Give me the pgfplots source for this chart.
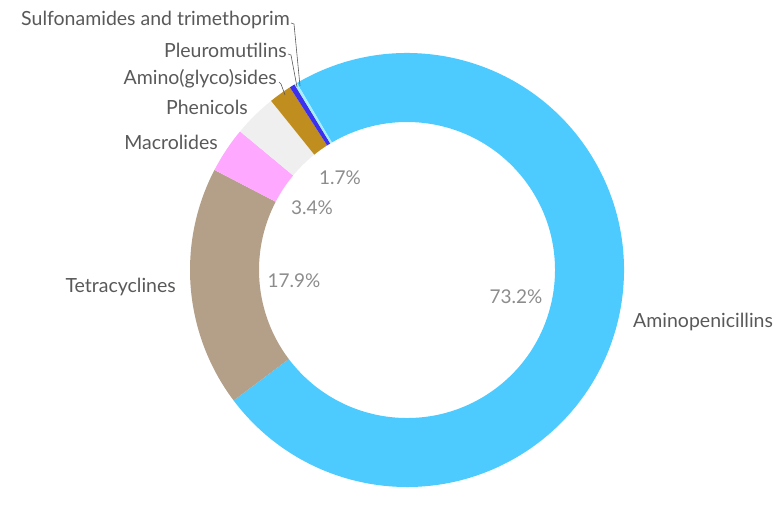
\documentclass[border=0pt]{standalone}
\usepackage{pgfplots}
\pgfplotsset{compat=1.18}
\usepackage{pgfplotstable}
\usepackage{fontspec}
\setmainfont{Lato}
\definecolor{c0}{HTML}{4DCBFF}
\definecolor{c1}{HTML}{B4A089}
\definecolor{c2}{HTML}{FFA8FF}
\definecolor{c3}{HTML}{EFEFEF}
\definecolor{c4}{HTML}{C08E1F}
\definecolor{c5}{HTML}{3B2FF0}
\definecolor{c6}{HTML}{A6EEFF}
\definecolor{lblgray}{HTML}{595959}
\definecolor{pctgray}{HTML}{8C8C8C}
% share of each antimicrobial class (%), clockwise from Aminopenicillins
\pgfplotstableread{
value
73.2
17.9
3.4
3.2
1.7
0.4
0.2
}\abdata
\begin{document}
\begin{tikzpicture}
\begin{axis}[hide axis, scale only axis, width=781pt, height=490pt,
  xmin=0, xmax=781, ymin=0, ymax=490, y dir=reverse, clip=false]
\path (axis cs:0,0) rectangle (axis cs:781,490);
\def\angA{120.5}
\pgfplotsforeachungrouped \i in {0,...,6}{%
  \pgfplotstablegetelem{\i}{value}\of\abdata
  \pgfmathsetmacro\angB{\angA-3.6*\pgfplotsretval}%
  \edef\temp{\noexpand\fill[c\i] (axis cs:407,270) ++(\angA:217pt)
    arc[start angle=\angA, end angle=\angB, radius=217pt]
    -- ++(\angB:-69pt)
    arc[start angle=\angB, end angle=\angA, radius=148pt] -- cycle;}%
  \temp
  \global\let\angA\angB
}
\tikzset{lbl/.style={anchor=east, text=lblgray, font=\fontsize{19.5}{22}\selectfont, inner sep=0pt},
         pct/.style={text=pctgray, font=\fontsize{19}{22}\selectfont, inner sep=0pt}}
\node[lbl] at (axis cs:290,20) {Sulfonamides and trimethoprim};
\node[lbl] at (axis cs:287,50) {Pleuromutilins};
\node[lbl] at (axis cs:277,79) {Amino(glyco)sides};
\node[lbl] at (axis cs:248,107) {Phenicols};
\node[lbl] at (axis cs:218,142) {Macrolides};
\node[lbl] at (axis cs:176,287) {Tetracyclines};
\node[lbl, anchor=west] at (axis cs:633,322) {Aminopenicillins};
\draw[lblgray, line width=0.6pt] (axis cs:291,23) -- (axis cs:294,24) -- (axis cs:300,86);
\draw[lblgray, line width=0.6pt] (axis cs:288,54) -- (axis cs:291,55) -- (axis cs:297,87);
\draw[lblgray, line width=0.6pt] (axis cs:279,82) -- (axis cs:281,84) -- (axis cs:285,95);
\node[pct] at (axis cs:516,297) {73.2\%};
\node[pct] at (axis cs:294,281) {17.9\%};
\node[pct] at (axis cs:312,208) {3.4\%};
\node[pct] at (axis cs:340,178) {1.7\%};
\end{axis}
\end{tikzpicture}
\end{document}
